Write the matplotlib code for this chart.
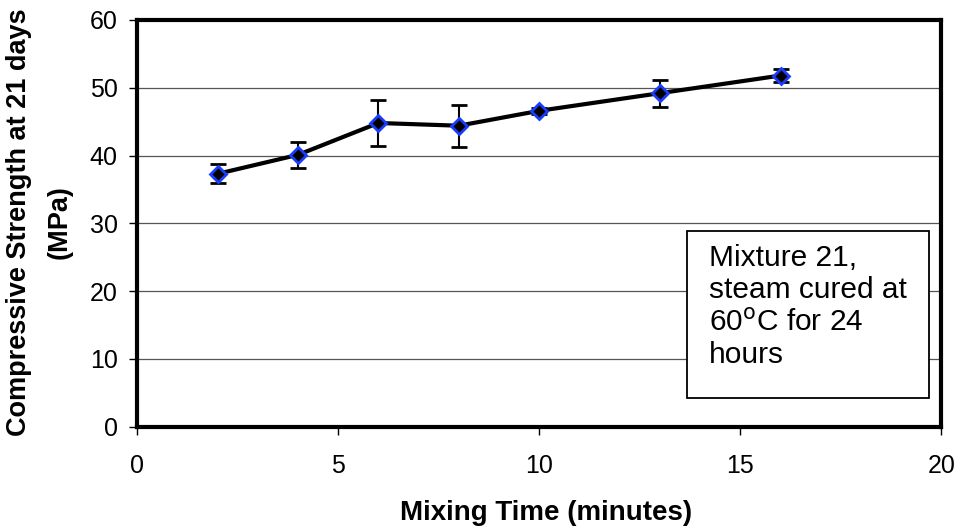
import matplotlib.pyplot as plt
from matplotlib.patches import Rectangle

plt.rcParams['font.family'] = ['Liberation Sans', 'DejaVu Sans']

# data
mix_time = [2, 4, 6, 8, 10, 13, 16]
strength = [37.3, 40.1, 44.8, 44.4, 46.6, 49.2, 51.8]
err = [1.4, 1.9, 3.4, 3.1, 0.4, 2.0, 0.9]

fig = plt.figure(figsize=(9.69, 5.26), dpi=100)
ax = fig.add_axes([0.1415, 0.189, 0.830, 0.773])

for y in [10, 20, 30, 40, 50]:
    ax.axhline(y, color='#555555', lw=0.9, zorder=1)

ax.errorbar(mix_time, strength, yerr=err, color='black', lw=3, ecolor='black',
            elinewidth=1.5, capsize=5.5, capthick=1.5, marker='D', markersize=8,
            markerfacecolor='black', markeredgecolor='#1a3cff', markeredgewidth=2,
            zorder=3)

ax.set_xlim(0, 20)
ax.set_ylim(0, 60)
ax.set_xticks([0, 5, 10, 15, 20])
ax.set_yticks(range(0, 61, 10))
ax.tick_params(axis='both', labelsize=18, direction='out', length=6, width=1)
ax.tick_params(axis='x', pad=14)
ax.tick_params(axis='y', pad=8)
for s in ax.spines.values():
    s.set_linewidth(3)

fig.text(546 / 969, 1 - 520 / 526, 'Mixing Time (minutes)', fontsize=20,
         fontweight='bold', ha='center', va='baseline')
fig.text(39.5 / 969, 1 - 222 / 526, 'Compressive Strength at 21 days\n(MPa)',
         fontsize=19.5, fontweight='bold', rotation=90, ha='center', va='center',
         multialignment='center', linespacing=1.75)

# annotation box
ax.add_patch(Rectangle((0.684, 0.0713), 0.300, 0.410, transform=ax.transAxes,
                       facecolor='white', edgecolor='black', lw=1.3, zorder=4))
ax.text(0.711, 0.4496, 'Mixture 21,\nsteam cured at\n60$^{\\mathrm{o}}$C for 24\nhours',
        transform=ax.transAxes, fontsize=21.5, va='top', ha='left',
        linespacing=1.2, zorder=5)

fig.savefig('out.png', dpi=100)
